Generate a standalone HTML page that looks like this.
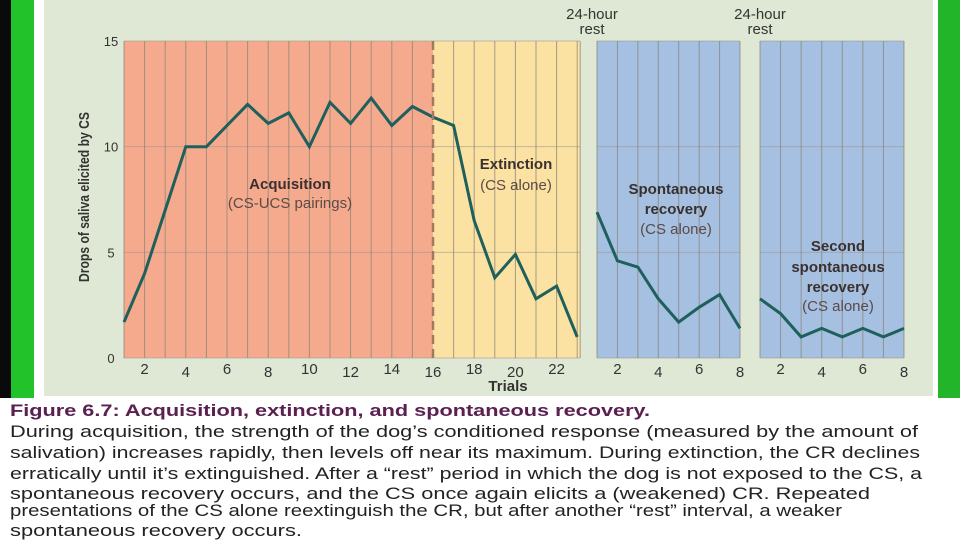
<!DOCTYPE html>
<html><head><meta charset="utf-8">
<style>
body{margin:0;width:960px;height:540px;overflow:hidden;background:#fff;font-family:"Liberation Sans",sans-serif}
svg{display:block}
</style></head>
<body>
<svg id="c" width="960" height="540" xmlns="http://www.w3.org/2000/svg">
<rect x="0" y="0" width="11" height="398" fill="#0a0a0a"/>
<rect x="11" y="0" width="23" height="398" fill="#22c22a"/>
<rect x="938" y="0" width="22" height="398" fill="#22b52a"/>
<rect x="44" y="0" width="889" height="396" fill="#dfe8d4"/>
<g id="plot"></g>
<g font-family="Liberation Sans, sans-serif" font-size="16.5" fill="#222">
<text x="10" y="416" fill="#5a2050" font-weight="bold" textLength="640" lengthAdjust="spacingAndGlyphs">Figure 6.7: Acquisition, extinction, and spontaneous recovery.</text>
<text x="10" y="437" textLength="908" lengthAdjust="spacingAndGlyphs">During acquisition, the strength of the dog’s conditioned response (measured by the amount of</text>
<text x="10" y="458" textLength="910" lengthAdjust="spacingAndGlyphs">salivation) increases rapidly, then levels off near its maximum.  During extinction, the CR declines</text>
<text x="10" y="479" textLength="912" lengthAdjust="spacingAndGlyphs">erratically until it’s extinguished. After a “rest” period in which the dog is not exposed to the CS, a</text>
<text x="10" y="499" textLength="860" lengthAdjust="spacingAndGlyphs">spontaneous recovery occurs, and the CS once again elicits a (weakened) CR. Repeated</text>
<text x="10" y="516" textLength="832" lengthAdjust="spacingAndGlyphs">presentations of the CS alone reextinguish the CR, but after another “rest” interval, a weaker</text>
<text x="10" y="536" textLength="292" lengthAdjust="spacingAndGlyphs">spontaneous recovery occurs.</text>
</g>
</svg>
<script>
const acqExtValues=[1.7,4,7,10,10,11,12,11.1,11.6,10,12.1,11.1,12.3,11,11.9,11.4,11,6.5,3.8,4.9,2.8,3.4,1.0];
const spont1Values=[6.9,4.6,4.3,2.8,1.7,2.4,3.0,1.4];
const spont2Values=[2.8,2.1,1.0,1.4,1.0,1.4,1.0,1.4];
const yTicks=[0,5,10,15];
const xTicksMain=[2,4,6,8,10,12,14,16,18,20,22];
const xTicksSub=[2,4,6,8];

const NS='http://www.w3.org/2000/svg';
const g=document.getElementById('plot');
const plotTop=41,plotBot=358;
const y=v=>plotBot-(plotBot-plotTop)*v/15;
function mk(t,a,p){const e=document.createElementNS(NS,t);for(const k in a)e.setAttribute(k,a[k]);(p||g).appendChild(e);return e;}
function txt(x,yy,s,o){const e=mk('text',Object.assign({x:x,y:yy,'font-family':'Liberation Sans, sans-serif','font-size':14,fill:'#333','text-anchor':'middle'},o||{}));e.textContent=s;return e;}

const panels=[
 {x0:124,step:20.6,n:23,vals:acqExtValues,ticks:xTicksMain,name:'main'},
 {x0:597,step:20.43,n:8,vals:spont1Values,ticks:xTicksSub,name:'spont1'},
 {x0:760,step:20.57,n:8,vals:spont2Values,ticks:xTicksSub,name:'spont2'}
];
const p0=panels[0];
const xa=i=>p0.x0+(i-1)*p0.step;
let r=mk('rect',{x:xa(1),y:plotTop,width:xa(16)-xa(1),height:plotBot-plotTop,fill:'#f5aa8d'});


r=mk('rect',{x:xa(16),y:plotTop,width:xa(23)-xa(16)+3,height:plotBot-plotTop,fill:'#fbe2a2'});


[panels[1],panels[2]].forEach((p,k)=>{
 const e=mk('rect',{x:p.x0,y:plotTop,width:(p.n-1)*p.step,height:plotBot-plotTop,fill:'#a5c0e0'});
 
 
});
panels.forEach(p=>{
 const xs=i=>p.x0+(i-1)*p.step;
 const right=p.name==='main'?xs(p.n)+3:xs(p.n);
 yTicks.forEach(t=>{
  const l=mk('line',{x1:p.x0,x2:right,y1:y(t),y2:y(t),stroke:'#a09a90','stroke-width':1,opacity:0.6});
  
  
 });
 for(let i=1;i<=p.n;i++){
  if(p.name==='main'&&i===16)continue;
  const l=mk('line',{x1:xs(i),x2:xs(i),y1:plotTop,y2:plotBot,stroke:'#8a8478','stroke-width':1,opacity:0.75});
  
  
 }
 if(p.name==='main'){
  const l=mk('line',{x1:right,x2:right,y1:plotTop,y2:plotBot,stroke:'#8a8478','stroke-width':1,opacity:0.75});
  
  
 }
 p.ticks.forEach(t=>{
  const e=txt(xs(t),t%4===0?377:374,String(t),{'font-size':15});
  
  
 });
 const pts=p.vals.map((v,i)=>xs(i+1).toFixed(1)+','+y(v).toFixed(1)).join(' ');
 const pl=mk('polyline',{points:pts,fill:'none',stroke:'#1f5f5c','stroke-width':3,'stroke-linejoin':'miter'});
 
 
});
const d=mk('line',{x1:xa(16),x2:xa(16),y1:plotTop,y2:plotBot,stroke:'#a07a60','stroke-width':2.5,'stroke-dasharray':'9,5'});


yTicks.forEach(t=>{
 const e=txt(111,y(t)+5,String(t),{'font-size':13,'text-anchor':'middle'});
 
 
});
let e=txt(0,0,'Drops of saliva elicited by CS',{transform:'translate(89,197) rotate(-90)','font-size':15,'font-weight':'bold',fill:'#333',textLength:170,lengthAdjust:'spacingAndGlyphs'});


e=txt(508,391,'Trials',{'font-size':15,'font-weight':'bold'});


[[592,'24-hour',19],[592,'rest',34],[760,'24-hour',19],[760,'rest',34]].forEach(a=>{
 const t=txt(a[0],a[2],a[1],{'font-size':15});
 
 
});
const labels=[
 [290,189,'Acquisition',1],[290,208,'(CS-UCS pairings)',0],
 [516,169,'Extinction',1],[516,190,'(CS alone)',0],
 [676,194,'Spontaneous',1],[676,214,'recovery',1],[676,234,'(CS alone)',0],
 [838,251,'Second',1],[838,272,'spontaneous',1],[838,292,'recovery',1],[838,311,'(CS alone)',0]
];
labels.forEach(a=>{
 const t=txt(a[0],a[1],a[2],{'font-size':15,'font-weight':a[3]?'bold':'normal',fill:a[3]?'#3a3030':'#5a4a48'});
 
 
});
</script>
</body></html>
